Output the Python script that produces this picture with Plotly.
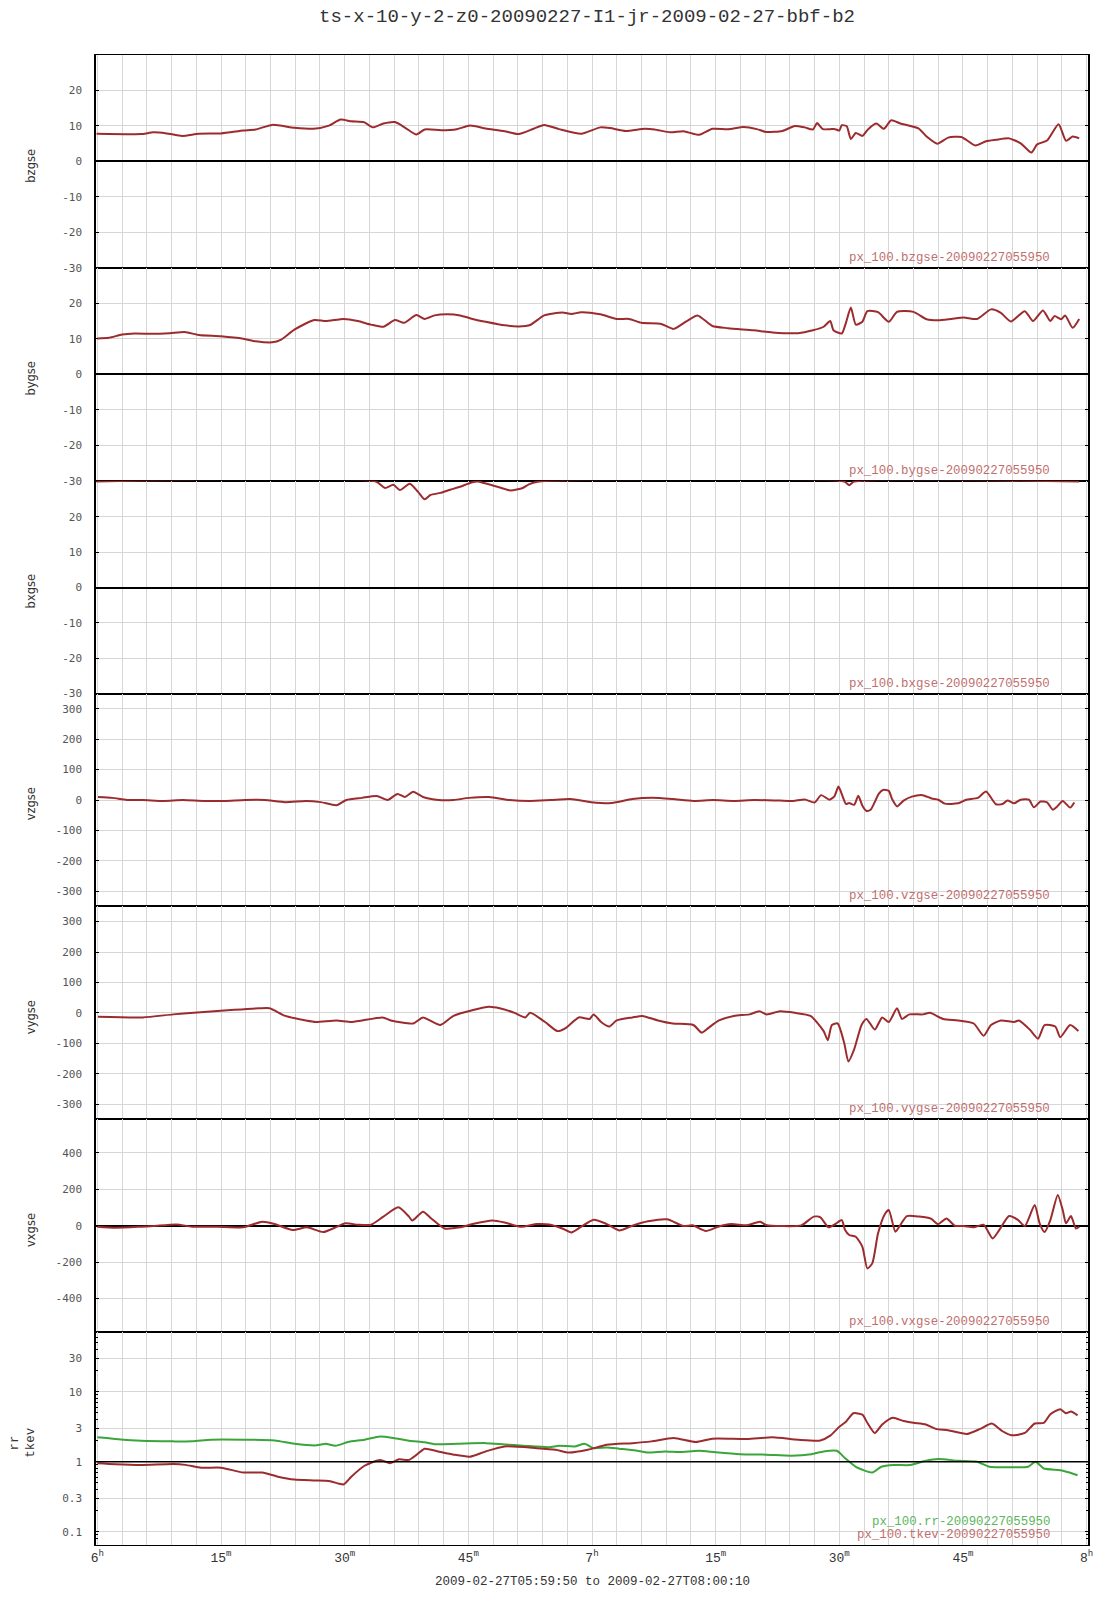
import plotly.graph_objects as go
from plotly.subplots import make_subplots

# ---------------- data (x = minutes after 06:00 UT, 2009-02-27) ----------------
bz_t = [-0.1, 5.3, 6.8, 8.4, 10.3, 12.3, 15.0, 17.7, 19.2, 21.2, 23.9, 26.2, 28.1, 29.5, 30.8, 32.4, 33.4, 34.7,
        36.1, 37.4, 38.7, 39.7, 41.7, 43.6, 45.2, 47.1, 49.4, 51.1, 52.9, 54.2, 56.0, 58.7, 61.0, 62.2, 64.1, 66.4,
        67.6, 69.5, 71.1, 73.0, 74.6, 76.5, 78.4, 80.0, 81.1, 83.1, 84.6, 85.8, 86.8, 87.3, 88.0, 88.9, 89.5, 90.0,
        90.3, 90.9, 91.4, 92.0, 92.8, 93.5, 94.5, 95.4, 96.3, 97.4, 99.6, 100.6, 101.9, 103.2, 104.8, 106.5, 107.8,
        109.0, 110.6, 112.0, 113.3, 114.0, 115.2, 116.6, 117.5, 118.3, 119.1]
bz_v = [7.8, 7.7, 8.2, 7.9, 7.2, 7.8, 7.9, 8.7, 9.0, 10.3, 9.5, 9.2, 10.1, 11.8, 11.3, 11.0, 9.6, 10.7,
        11.1, 9.4, 7.6, 9.0, 8.8, 9.1, 10.1, 9.3, 8.5, 7.7, 9.2, 10.3, 9.1, 7.8, 9.6, 9.4, 8.6, 9.2,
        9.0, 8.2, 8.5, 7.5, 9.2, 9.1, 9.7, 9.1, 8.3, 8.6, 10.0, 9.6, 9.0, 10.8, 9.1, 9.1, 9.1, 8.7,
        10.2, 9.9, 6.3, 8.0, 7.2, 9.1, 10.7, 9.2, 11.6, 10.7, 9.3, 7.0, 5.0, 6.7, 6.9, 4.5, 5.7,
        6.1, 6.5, 5.1, 2.5, 4.8, 5.9, 10.5, 5.8, 7.0, 6.5]

by_t = [0.0, 1.4, 3.0, 4.5, 6.8, 8.8, 10.6, 12.3, 15.0, 17.7, 19.2, 21.2, 22.3, 23.9, 26.3, 27.7, 29.9, 31.6,
        33.2, 34.7, 36.1, 37.2, 38.7, 39.7, 40.9, 42.4, 44.0, 45.5, 47.1, 49.4, 51.1, 52.5, 54.2, 56.4, 57.5,
        58.7, 61.0, 63.0, 64.5, 66.0, 68.4, 69.9, 71.5, 72.8, 74.6, 76.5, 79.6, 81.9, 85.0, 86.8, 88.1, 88.9,
        89.3, 90.3, 90.8, 91.4, 92.0, 92.8, 93.4, 94.7, 96.0, 97.0, 99.0, 100.6, 102.0, 103.6, 105.1, 106.7,
        108.4, 109.6, 110.8, 112.5, 113.5, 114.7, 115.6, 116.1, 116.9, 117.4, 118.3, 119.1]
by_v = [10.1, 10.3, 11.2, 11.5, 11.4, 11.6, 11.9, 11.1, 10.7, 10.0, 9.3, 9.0, 9.8, 12.6, 15.3, 15.0, 15.6, 15.0,
        14.0, 13.4, 15.3, 14.5, 16.7, 15.6, 16.6, 16.9, 16.6, 15.6, 14.8, 13.8, 13.5, 13.9, 16.6, 17.4, 17.0,
        17.5, 16.9, 15.6, 15.6, 14.5, 14.2, 12.8, 15.0, 16.6, 13.6, 13.0, 12.4, 11.8, 11.6, 12.4, 13.4, 15.0,
        12.4, 11.5, 14.5, 18.8, 14.0, 14.8, 17.8, 17.5, 14.8, 17.6, 17.6, 15.5, 15.2, 15.6, 16.0, 15.6,
        18.3, 17.3, 14.9, 17.8, 15.0, 18.0, 15.0, 16.4, 15.5, 16.6, 13.1, 15.6]

bx_t = [-0.1, 33.8, 34.9, 35.9, 36.7, 37.9, 38.9, 39.7, 40.4, 41.6, 42.8, 43.8, 45.5, 46.1, 48.7, 50.1, 51.6,
        52.4, 53.6, 90.6, 91.2, 91.8, 119.1]
bx_v = [30, 30, 28.2, 29.1, 27.6, 29.4, 27.1, 25.0, 26.2, 26.8, 27.7, 28.4, 29.8, 30, 28.4, 27.5, 28.2,
        29.3, 30, 30, 29.0, 30, 30]

vz_t = [0.07, 1.8, 3.6, 5.5, 8.0, 10.4, 12.9, 15.4, 17.9, 20.3, 22.8, 25.3, 27.1, 29.0, 30.2, 32.1, 33.9, 35.2,
        36.4, 37.3, 38.3, 39.5, 41.4, 43.2, 45.1, 47.5, 50.0, 52.5, 55.0, 57.4, 59.9, 62.4, 64.9, 67.3, 69.8,
        72.3, 74.7, 77.2, 79.7, 82.8, 84.4, 85.8, 87.0, 87.8, 88.8, 89.4, 89.9, 90.4, 90.8, 91.2, 91.8, 92.3,
        92.8, 93.3, 93.8, 94.8, 95.3, 96.0, 96.4, 97.0, 97.8, 98.8, 100.1, 101.2, 102.0, 102.8, 104.4, 105.4,
        106.8, 107.8, 109.0, 109.8, 110.4, 111.2, 112.0, 113.0, 113.6, 114.4, 115.2, 115.9, 116.4, 117.1,
        118.0, 118.5]
vz_v = [10, 7, 0, 0, -3, 0, -3, -3, 0, 0, -7, -3, -7, -17, 0, 7, 13, 0,
        20, 10, 27, 10, 0, 0, 7, 10, 0, -3, 0, 3, -7, -10, 3, 7, 3,
        -3, 0, -3, 0, -2, -3, 2, -8, 16, 1, 12, 44, 12, -13, -10, -16, 14,
        -19, -36, -32, 21, 33, 30, 3, -21, -2, 11, 16, 5, 1, -12, -11, 1,
        7, 28, -14, -13, -2, -11, 1, 1, -24, -5, -8, -32, -22, -3,
        -25, -8]

vy_t = [0.07, 5.5, 9.2, 11.7, 16.6, 19.7, 20.9, 22.8, 25.3, 26.5, 29.0, 30.9, 34.6, 35.6, 38.3, 39.5, 41.6, 43.2,
        45.7, 47.5, 48.8, 50.6, 51.9, 52.5, 54.3, 55.8, 56.8, 58.4, 59.7, 60.2, 61.1, 62.1, 63.0, 64.9, 66.1,
        68.0, 69.8, 72.3, 73.3, 74.1, 75.4, 77.2, 79.1, 80.3, 81.2, 82.8, 84.6, 86.5, 88.1, 88.6, 89.1, 89.8,
        90.6, 91.1, 91.8, 92.7, 93.3, 94.3, 95.2, 96.0, 97.0, 97.6, 98.5, 100.1, 101.0, 102.6, 104.4, 106.3,
        107.5, 108.4, 109.6, 111.2, 111.8, 113.1, 114.1, 114.9, 116.2, 116.8, 118.0, 119.0]
vy_v = [-13, -15, -5, 0, 10, 15, 15, -10, -25, -30, -25, -30, -15, -25, -35, -15, -40, -10,
        10, 20, 15, 0, -15, 0, -30, -60, -50, -15, -20, -5, -30, -45, -25, -15, -10,
        -25, -35, -40, -65, -50, -25, -10, -5, 5, -5, 5, 0, -10, -60, -90, -40, -35,
        -100, -160, -120, -40, -20, -55, -15, -30, 15, -20, -5, -5, 0, -20, -25, -35,
        -75, -40, -25, -30, -25, -55, -85, -40, -45, -80, -40, -60]

vx_t = [0.0, 2.2, 5.3, 6.8, 9.6, 11.5, 14.6, 17.7, 20.0, 21.5, 23.7, 25.4, 27.4, 28.9, 30.1, 31.6, 33.2, 34.7,
        36.5, 37.8, 38.2, 39.5, 40.5, 42.1, 44.0, 45.5, 47.9, 49.4, 51.3, 53.3, 54.8, 56.4, 57.5, 58.7, 60.2,
        61.8, 63.3, 64.9, 66.8, 69.1, 71.1, 72.2, 73.8, 75.3, 76.9, 78.8, 80.4, 81.1, 83.1, 85.4, 86.9, 87.7,
        88.7, 89.5, 90.3, 90.7, 91.2, 92.0, 92.8, 93.4, 94.0, 94.7, 95.5, 96.0, 96.8, 97.4, 98.2, 99.7, 101.1,
        102.0, 103.0, 104.0, 105.1, 106.3, 107.5, 108.6, 109.4, 110.6, 111.7, 112.5, 113.7, 114.3, 114.9,
        115.6, 116.5, 117.1, 117.5, 118.1, 118.7, 119.1]
vx_v = [-5.5, -11, -5.5, -2, 7, -5.5, -5.5, -9, 22, 9, -24, -9, -35, -9, 13, 5.5, 5.5, 50,
        101, 50, 28, 77, 40, -15, -9, 9, 29, 18, -5.5, 9, 7, -15, -37, -5.5, 33,
        9, -26, 0, 24, 35, -2, 2, -29, -5.5, 9, 2, 22, 4, -2, 2, 50, 46,
        -9, 9, 31, -24, -51, -61, -116, -235, -207, -42, 62, 86, -33, 4, 53, 50, 39,
        9, 40, 0, -2, -9, 5.5, -70, -24, 53, 31, -2, 114, 13, -35,
        31, 169, 86, 13, 53, -15, -5.5]

rr_t = [0.0, 2.2, 5.3, 9.2, 11.5, 13.8, 17.7, 21.5, 23.9, 26.6, 27.7, 28.9, 30.4, 32.4, 34.3, 35.9, 37.8, 39.7,
        40.9, 43.6, 47.1, 49.4, 51.7, 54.8, 56.0, 57.9, 59.1, 60.2, 61.8, 63.3, 65.3, 66.8, 68.8, 70.7, 73.0,
        75.0, 78.0, 81.1, 84.2, 86.6, 88.1, 89.7, 90.7, 92.0, 94.0, 95.1, 96.6, 98.6, 100.5, 102.0, 104.4,
        106.7, 108.2, 110.9, 112.9, 113.8, 114.8, 116.8, 117.9, 118.9]
rr_v = [2.23, 2.11, 1.99, 1.95, 1.95, 2.06, 2.06, 2.01, 1.80, 1.71, 1.80, 1.69, 1.91, 2.06, 2.28, 2.18, 1.99, 1.89,
        1.78, 1.80, 1.84, 1.76, 1.69, 1.61, 1.69, 1.65, 1.80, 1.56, 1.60, 1.53, 1.44, 1.35, 1.40, 1.38, 1.43,
        1.36, 1.28, 1.26, 1.22, 1.28, 1.40, 1.43, 1.12, 0.846, 0.70, 0.846, 0.895, 0.895, 1.03, 1.09, 1.03,
        1.0, 0.846, 0.83, 0.846, 1.0, 0.80, 0.757, 0.70, 0.64]

tk_t = [0.0, 2.2, 5.3, 9.2, 10.7, 12.6, 15.0, 17.7, 20.0, 21.9, 23.9, 26.2, 28.1, 29.3, 29.9, 30.8, 32.4, 34.3,
        35.5, 36.6, 37.8, 38.7, 39.7, 41.3, 43.2, 45.2, 47.1, 49.4, 53.3, 55.6, 57.2, 59.5, 61.8, 64.9, 67.2,
        69.9, 72.6, 74.6, 78.8, 81.9, 85.0, 87.7, 88.9, 90.0, 90.8, 91.7, 92.8, 93.4, 94.3, 95.2, 96.5, 97.8,
        99.0, 100.5, 101.7, 103.2, 105.5, 107.1, 108.5, 109.8, 110.9, 112.5, 113.7, 114.8, 115.6, 116.8, 117.5,
        118.1, 118.9]
tk_v = [0.95, 0.92, 0.90, 0.93, 0.90, 0.82, 0.82, 0.70, 0.70, 0.61, 0.555, 0.54, 0.53, 0.485, 0.475, 0.61, 0.875, 1.06,
        0.95, 1.08, 1.06, 1.25, 1.53, 1.40, 1.26, 1.18, 1.40, 1.65, 1.56, 1.48, 1.35, 1.48, 1.74, 1.84, 1.95,
        2.18, 1.91, 2.13, 2.11, 2.23, 2.06, 2.01, 2.35, 3.15, 3.72, 4.91, 4.69, 3.59, 2.57, 3.40, 4.25, 3.80,
        3.59, 3.40, 2.94, 2.81, 2.49, 2.94, 3.51, 2.72, 2.38, 2.57, 3.51, 3.59, 4.75, 5.61, 4.91, 5.19, 4.59]

panel_names = ["bzgse", "bygse", "bxgse", "vzgse", "vygse", "vxgse"]
legend_labels = ["px_100.bzgse-20090227055950", "px_100.bygse-20090227055950", "px_100.bxgse-20090227055950",
                 "px_100.vzgse-20090227055950", "px_100.vygse-20090227055950", "px_100.vxgse-20090227055950"]
xtick_vals = [0, 15, 30, 45, 60, 75, 90, 105, 120]
xtick_text = ["6<sup>h</sup>", "15<sup>m</sup>", "30<sup>m</sup>", "45<sup>m</sup>", "7<sup>h</sup>",
              "15<sup>m</sup>", "30<sup>m</sup>", "45<sup>m</sup>", "8<sup>h</sup>"]
b_ticks = [-30, -20, -10, 0, 10, 20]
b_ticktext = ["-30", "-20", "-10", "0", "10", "20"]
v_ticks = [-300, -200, -100, 0, 100, 200, 300]
v_ticktext = ["-300", "-200", "-100", "0", "100", "200", "300"]
vx_ticks = [-400, -200, 0, 200, 400]
vx_ticktext = ["-400", "-200", "0", "200", "400"]
log_ticks = [0.1, 0.3, 1, 3, 10, 30]
log_ticktext = ["0.1", "0.3", "1", "3", "10", "30"]
log_minor = [0.08, 0.09, 0.2, 0.4, 0.5, 0.6, 0.7, 0.8, 0.9, 2, 4, 5, 6, 7, 8, 9, 20, 40, 50, 60]

RED = "#9c2b2e"
GREEN = "#3aa53a"
RED_TXT = "#bf6f6f"
GREEN_TXT = "#5db55d"
GRID = "#d6d6d6"
MONO = "Liberation Mono, Courier New, monospace"
SANS = "DejaVu Sans, sans-serif"

fig = make_subplots(rows=7, cols=1, shared_xaxes=True, vertical_spacing=0)

series = [(bz_t, bz_v), (by_t, by_v), (bx_t, bx_v), (vz_t, vz_v), (vy_t, vy_v), (vx_t, vx_v)]
for i, (t, v) in enumerate(series):
    fig.add_trace(go.Scatter(x=t, y=v, mode="lines", line=dict(color=RED, width=2, shape="spline", smoothing=0.6),
                             showlegend=False, hoverinfo="skip"), row=i + 1, col=1)
fig.add_trace(go.Scatter(x=rr_t, y=rr_v, mode="lines", line=dict(color=GREEN, width=2, shape="spline", smoothing=0.6),
                         showlegend=False, hoverinfo="skip"), row=7, col=1)
fig.add_trace(go.Scatter(x=tk_t, y=tk_v, mode="lines", line=dict(color=RED, width=2, shape="spline", smoothing=0.6),
                         showlegend=False, hoverinfo="skip"), row=7, col=1)

fig.update_xaxes(range=[-10 / 60, 120 + 10 / 60], tickmode="array", tickvals=xtick_vals, ticktext=xtick_text,
                 showgrid=True, gridcolor=GRID, gridwidth=1, layer="below traces",
                 minor=dict(tickmode="linear", tick0=0, dtick=3, showgrid=True, gridcolor=GRID, gridwidth=1),
                 showline=True, mirror=True, linecolor="black", linewidth=1, zeroline=False,
                 ticks="", tickfont=dict(family=MONO, size=13, color="#333"))

common_y = dict(showgrid=True, gridcolor=GRID, gridwidth=1, showline=True, mirror="ticks", linecolor="black",
                linewidth=1.5, ticks="inside", ticklen=3, tickcolor="black", ticklabelstandoff=10,
                layer="below traces",
                tickfont=dict(family="DejaVu Sans Mono, monospace", size=11, color="#555"))
for r in (1, 2):
    fig.update_yaxes(range=[-30, 30], tickmode="array", tickvals=b_ticks, ticktext=b_ticktext, zeroline=True,
                     zerolinecolor="black", zerolinewidth=1.5, row=r, col=1, **common_y)
fig.update_yaxes(range=[-30, 30.25], tickmode="array", tickvals=b_ticks, ticktext=b_ticktext, zeroline=True,
                 zerolinecolor="black", zerolinewidth=1.5, row=3, col=1, **common_y)
for r in (4, 5):
    fig.update_yaxes(range=[-350, 350], tickmode="array", tickvals=v_ticks, ticktext=v_ticktext, zeroline=False,
                     row=r, col=1, **common_y)
fig.update_yaxes(range=[-585, 585], tickmode="array", tickvals=vx_ticks, ticktext=vx_ticktext, zeroline=True,
                 zerolinecolor="black", zerolinewidth=1.5, row=6, col=1, **common_y)
fig.update_yaxes(type="log", range=[-1.19, 1.85], tickmode="array", tickvals=log_ticks, ticktext=log_ticktext,
                 minor=dict(tickmode="array", tickvals=log_minor, ticks="inside", ticklen=2, tickcolor="black"),
                 row=7, col=1, **common_y)

# reference line at 1 on the log panel
fig.add_hline(y=1, line=dict(color="black", width=1.5), layer="above", row=7, col=1)

annotations = []
for i, name in enumerate(panel_names):
    yd = "y domain" if i == 0 else f"y{i + 1} domain"
    annotations.append(dict(text=name, xref="paper", x=-0.0655, yref=yd, y=0.48, textangle=-90, showarrow=False,
                            xanchor="center", yanchor="middle", font=dict(family=SANS, size=11.5, color="#333")))
    annotations.append(dict(text=legend_labels[i], xref="paper", x=0.964, yref=yd, y=0, yshift=1, showarrow=False,
                            xanchor="right", yanchor="bottom", font=dict(family=MONO, size=12.4, color=RED_TXT)))
annotations.append(dict(text="rr", xref="paper", x=-0.082, yref="y7 domain", y=0.48, textangle=-90, showarrow=False,
                        xanchor="center", yanchor="middle", font=dict(family=MONO, size=12.5, color="#333")))
annotations.append(dict(text="tkev", xref="paper", x=-0.0655, yref="y7 domain", y=0.48, textangle=-90,
                        showarrow=False, xanchor="center", yanchor="middle",
                        font=dict(family=MONO, size=12.5, color="#333")))
annotations.append(dict(text="px_100.rr-20090227055950", xref="paper", x=0.964, yref="y7 domain", y=0, yshift=14,
                        showarrow=False, xanchor="right", yanchor="bottom",
                        font=dict(family=MONO, size=12.4, color=GREEN_TXT)))
annotations.append(dict(text="px_100.tkev-20090227055950", xref="paper", x=0.964, yref="y7 domain", y=0, yshift=1,
                        showarrow=False, xanchor="right", yanchor="bottom",
                        font=dict(family=MONO, size=12.4, color=RED_TXT)))
annotations.append(dict(text="2009-02-27T05:59:50 to 2009-02-27T08:00:10", xref="paper", x=0.5, yref="paper",
                        y=-0.0248, showarrow=False, xanchor="center", yanchor="middle",
                        font=dict(family=MONO, size=12.5, color="#333")))

fig.update_layout(
    width=1107, height=1600,
    margin=dict(l=96, r=19, t=55, b=55),
    paper_bgcolor="white", plot_bgcolor="white",
    title=dict(text="ts-x-10-y-2-z0-20090227-I1-jr-2009-02-27-bbf-b2", x=587 / 1107, xanchor="center",
               xref="container", y=1 - 15 / 1600, yref="container", yanchor="middle",
               font=dict(family=MONO, size=19, color="#333")),
    annotations=annotations,
    showlegend=False,
)

# remove the browser's default 8px page margin so the figure sits at the page origin
fig.write_html("out.html", config={"displayModeBar": False},
               post_script="document.body.style.margin='0';")
